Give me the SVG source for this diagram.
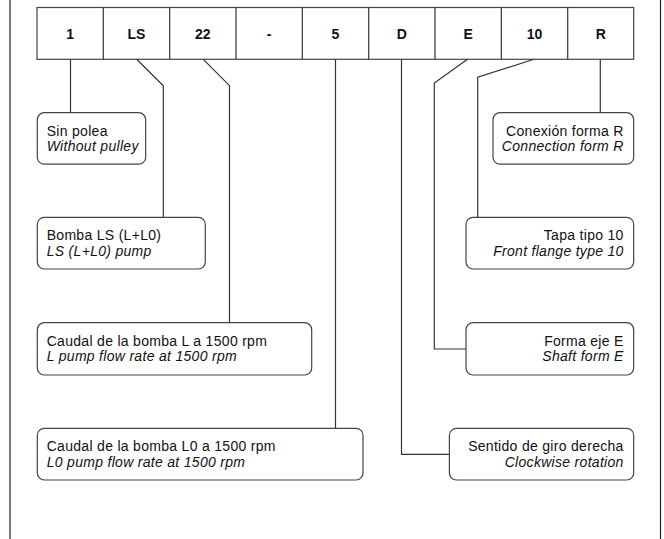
<svg xmlns="http://www.w3.org/2000/svg" width="664" height="539" viewBox="0 0 664 539">
<style>
.frame{stroke:#222;stroke-width:1.2;fill:none}
.cell{fill:#fff;stroke:#444;stroke-width:1.2}
.hd{font-family:"Liberation Sans",Arial,sans-serif;font-weight:bold;font-size:14px;fill:#111;text-anchor:middle}
.box{fill:#fff;stroke:#444;stroke-width:1.2}
.t{font-family:"Liberation Sans",Arial,sans-serif;font-size:14px;letter-spacing:0.3px;fill:#111}
.i{font-style:italic}
.r{text-anchor:end}
.ln{fill:none;stroke:#333;stroke-width:1.2}
</style>
<rect width="664" height="539" fill="#fff"/>
<line class="frame" x1="10" y1="0" x2="10" y2="539"/>
<line class="frame" x1="660.5" y1="0" x2="660.5" y2="539"/>

<g id="header">
<rect class="cell" x="37" y="7.5" width="596.7" height="51.8"/>
<line class="ln" x1="103.3" y1="7.5" x2="103.3" y2="59.3"/>
<line class="ln" x1="169.7" y1="7.5" x2="169.7" y2="59.3"/>
<line class="ln" x1="236" y1="7.5" x2="236" y2="59.3"/>
<line class="ln" x1="302.3" y1="7.5" x2="302.3" y2="59.3"/>
<line class="ln" x1="368.7" y1="7.5" x2="368.7" y2="59.3"/>
<line class="ln" x1="435" y1="7.5" x2="435" y2="59.3"/>
<line class="ln" x1="501.3" y1="7.5" x2="501.3" y2="59.3"/>
<line class="ln" x1="567.7" y1="7.5" x2="567.7" y2="59.3"/>
<text class="hd" x="70.2" y="39.3">1</text>
<text class="hd" x="136.5" y="39.3">LS</text>
<text class="hd" x="202.8" y="39.3">22</text>
<text class="hd" x="269.2" y="39.3">-</text>
<text class="hd" x="335.5" y="39.3">5</text>
<text class="hd" x="401.8" y="39.3">D</text>
<text class="hd" x="468.2" y="39.3">E</text>
<text class="hd" x="534.5" y="39.3">10</text>
<text class="hd" x="600.8" y="39.3">R</text>
</g>

<g id="connectors">
<polyline class="ln" points="70.5,59.3 70.5,112.7"/>
<polyline class="ln" points="136.7,59.3 163.3,85.7 163.3,217.3"/>
<polyline class="ln" points="203.3,59.3 229.5,85.7 229.5,322.7"/>
<polyline class="ln" points="335.5,59.3 335.5,428.3"/>
<polyline class="ln" points="401.5,59.3 401.5,454.3 449.4,454.3"/>
<polyline class="ln" points="467.5,59.3 434.3,83 434.3,349 466,349"/>
<polyline class="ln" points="534,59.3 477.7,77.3 477.7,217.3"/>
<polyline class="ln" points="600.3,59.3 600.3,112.7"/>
</g>

<g id="n-sinpolea">
<rect class="box" x="37.3" y="112.7" width="108.4" height="51.5" rx="7"/>
<text class="t" x="46.7" y="135.6">Sin polea</text>
<text class="t i" x="46.7" y="151.3">Without pulley</text>
</g>
<g id="n-bomba">
<rect class="box" x="37.3" y="217.3" width="168" height="51.7" rx="7"/>
<text class="t" x="46.7" y="240.2">Bomba LS (L+L0)</text>
<text class="t i" x="46.7" y="255.9">LS (L+L0) pump</text>
</g>
<g id="n-caudalL">
<rect class="box" x="37.3" y="322.7" width="274.4" height="52.3" rx="7"/>
<text class="t" x="46.7" y="345.6">Caudal de la bomba L a 1500 rpm</text>
<text class="t i" x="46.7" y="361.3">L pump flow rate at 1500 rpm</text>
</g>
<g id="n-caudalL0">
<rect class="box" x="37.3" y="428.3" width="325.7" height="51.7" rx="7"/>
<text class="t" x="46.7" y="451.2">Caudal de la bomba L0 a 1500 rpm</text>
<text class="t i" x="46.7" y="466.9">L0 pump flow rate at 1500 rpm</text>
</g>
<g id="n-conexion">
<rect class="box" x="493" y="112.7" width="140.7" height="51.5" rx="7"/>
<text class="t r" x="623.7" y="135.6">Conexión forma R</text>
<text class="t i r" x="623.7" y="151.3">Connection form R</text>
</g>
<g id="n-tapa">
<rect class="box" x="466" y="217.3" width="167.7" height="51.7" rx="7"/>
<text class="t r" x="623.7" y="240.2">Tapa tipo 10</text>
<text class="t i r" x="623.7" y="255.9">Front flange type 10</text>
</g>
<g id="n-forma">
<rect class="box" x="466" y="322.7" width="167.7" height="52.3" rx="7"/>
<text class="t r" x="623.7" y="345.6">Forma eje E</text>
<text class="t i r" x="623.7" y="361.3">Shaft form E</text>
</g>
<g id="n-sentido">
<rect class="box" x="449.4" y="428.3" width="184.3" height="51.7" rx="7"/>
<text class="t r" x="623.7" y="451.2">Sentido de giro derecha</text>
<text class="t i r" x="623.7" y="466.9">Clockwise rotation</text>
</g>
</svg>
